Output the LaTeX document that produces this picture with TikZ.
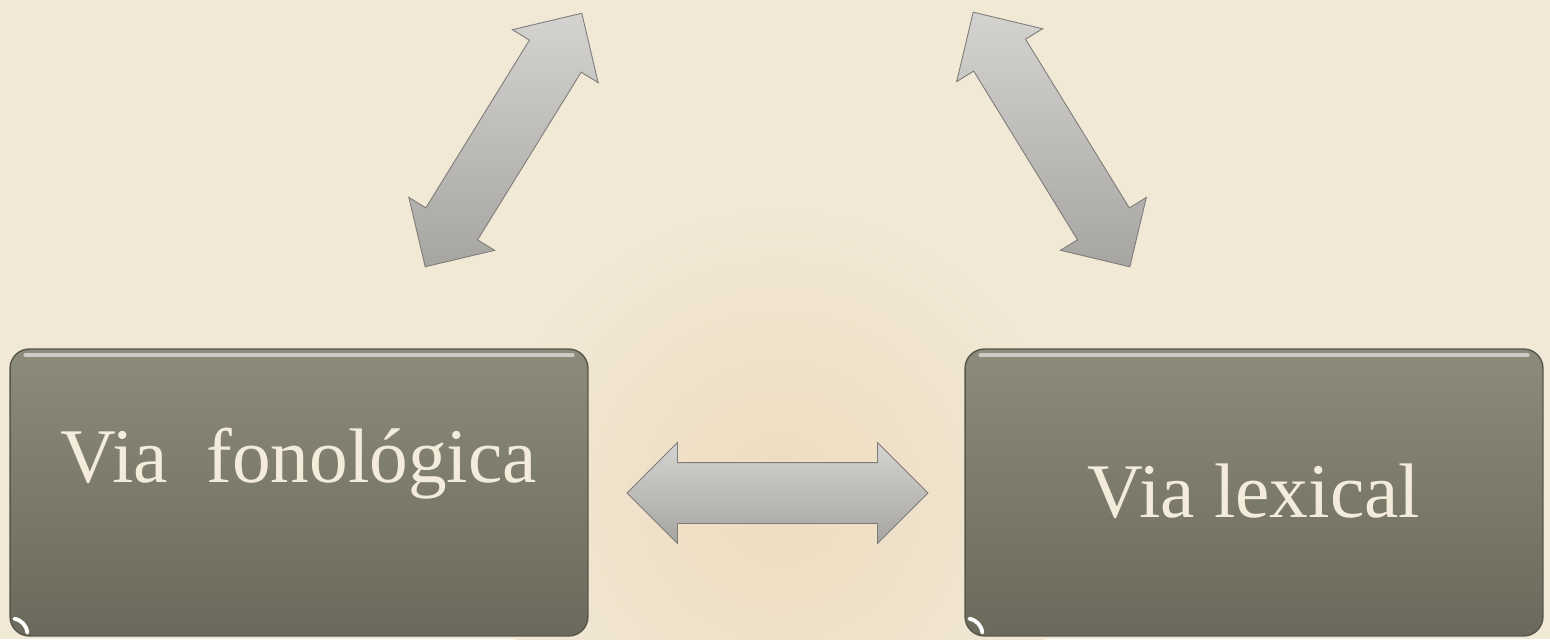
\documentclass[tikz,border=0pt]{standalone}
\usepackage{fontspec}
\setmainfont{Liberation Serif}
\usetikzlibrary{shapes.arrows, calc}
\definecolor{viabg}  {HTML}{F1E8D6}
\definecolor{viawarm}{HTML}{EEDCBE}
\definecolor{viatop} {HTML}{8D8C7B}
\definecolor{viabot} {HTML}{6B695B}
\definecolor{viaedge}{HTML}{57564B}
\definecolor{viatext}{HTML}{F3ECDB}
\definecolor{arrlite}{HTML}{D4D3CF}
\definecolor{arrdark}{HTML}{A6A5A1}
\tikzset{
  vbox/.style={rectangle, rounded corners=11pt, draw=viaedge, line width=0.8pt,
    top color=viatop, bottom color=viabot, inner sep=0pt,
    minimum width=11.56cm, minimum height=5.74cm},
  vlbl/.style={text=viatext, font=\fontsize{44}{52}\selectfont,
    inner sep=0pt, anchor=base},
  varr/.style={double arrow, draw=arrdark!75!black, line width=0.5pt,
    top color=arrlite, bottom color=arrdark, inner xsep=0pt, inner ysep=0.6cm,
    double arrow head extend=0.4cm, minimum height=#1},
  glow/.style={line width=2.2pt, color=white!55!viatop, line cap=round},
}
\begin{document}
\begin{tikzpicture}[x=0.02cm, y=-0.02cm]
  \useasboundingbox (0,0) rectangle (1550,639);
  \fill[viabg] (0,0) rectangle (1550,639);
  \shade[inner color=viawarm, outer color=viabg] (780,500) circle[radius=6cm];
  % the two routes
  \node[vbox] (fon) at (299,492.5) {};
  \node[vbox] (lex) at (1254,492.5) {};
  \foreach \b in {fon,lex}{
    \draw[glow] ($(\b.north west)+(16,7)$) -- ($(\b.north east)+(-16,7)$);
    \draw[white, line width=2.2pt, line cap=round]
      ($(\b.south west)+(5,-18)$) to[bend left=35] ($(\b.south west)+(18,-4)$);}
  \node[vlbl] (fonTxt) at ($(fon.center)+(0,-10)$) {Via~~fonológica};
  \node[vlbl] (lexTxt) at ($(lex.center)+(0,25)$) {Via lexical};
  % block arrows
  \node[varr=5.96cm, rotate=58.3]  (arrFon) at (503.5,140) {};
  \node[varr=5.98cm, rotate=-58.4] (arrLex) at (1051.5,139.5) {};
  \node[varr=6.02cm] (arrMid) at (777.5,493) {};
\end{tikzpicture}
\end{document}
